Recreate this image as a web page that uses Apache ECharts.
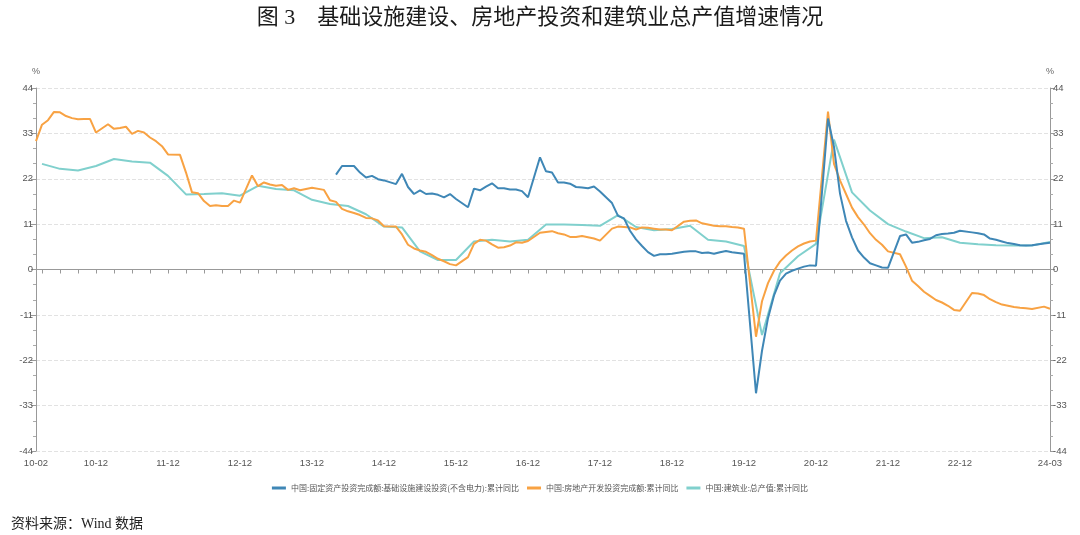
<!DOCTYPE html>
<html>
<head>
<meta charset="utf-8">
<script src="https://cdn.jsdelivr.net/npm/echarts@6/dist/echarts.min.js"></script>
<style>
  html, body { margin: 0; padding: 0; background: #fff; }
  #chart { width: 1080px; height: 535px; }
</style>
</head>
<body>
<div id="chart"></div>
<script>
// 月份轴：10-02 ~ 24-03
const months = [];
for (let y = 2010; y <= 2024; y++) {
  for (let m = 1; m <= 12; m++) {
    if ((y === 2010 && m < 2) || (y === 2024 && m > 3)) continue;
    months.push(String(y).slice(2) + "-" + String(m).padStart(2, "0"));
  }
}
// 统计局月度数据没有1月，取2~12月
const reportMonths = months.filter((m) => !m.endsWith("-01"));
const quarterMonths = months.filter((m) => ["03", "06", "09", "12"].includes(m.slice(3)));

// 基础设施建设投资(不含电力)：累计同比，14-04 起
const infraInv = [
  23.0, 25.1, 25.1, 25.1, 23.5, 22.3, 22.7, 21.9, 21.6,
  20.7, 23.2, 20.0, 18.3, 19.2, 18.3, 18.4, 18.1, 17.5, 18.3, 17.1,
  15.1, 19.6, 19.2, 20.1, 20.9, 19.7, 19.7, 19.4, 19.4, 19.0, 17.5,
  27.2, 23.8, 23.5, 21.1, 21.1, 20.8, 20.0, 19.9, 19.7, 20.1, 18.9,
  16.1, 13.0, 12.4, 9.4, 7.3, 5.7, 4.2, 3.3, 3.7, 3.7, 3.8,
  4.3, 4.4, 4.4, 4.0, 4.1, 3.8, 4.2, 4.5, 4.2, 4.0, 3.8,
  -30.0, -19.7, -11.8, -6.3, -2.7, -1.0, -0.3, 0.2, 0.7, 1.0, 0.9,
  36.6, 29.7, 18.4, 11.8, 7.8, 4.6, 2.9, 1.5, 1.0, 0.5, 0.4,
  8.1, 8.5, 6.5, 6.7, 7.1, 7.4, 8.3, 8.6, 8.7, 8.9, 9.4,
  9.0, 8.8, 8.5, 7.5, 7.2, 6.8, 6.4, 6.2, 5.9, 5.8, 5.9,
  6.3, 6.5,
];
// 房地产开发投资完成额：累计同比
const estateInv = [
  31.1, 35.1, 36.2, 38.2, 38.1, 37.2, 36.7, 36.4, 36.5, 36.5, 33.2,
  35.2, 34.1, 34.3, 34.6, 32.9, 33.6, 33.2, 32.0, 31.1, 29.9, 27.9,
  27.8, 23.5, 18.7, 18.5, 16.6, 15.4, 15.6, 15.4, 15.4, 16.7, 16.2,
  22.8, 20.2, 21.1, 20.6, 20.3, 20.5, 19.3, 19.7, 19.2, 19.5, 19.8,
  19.3, 16.8, 16.4, 14.7, 14.1, 13.7, 13.2, 12.5, 12.4, 11.9, 10.5,
  10.4, 8.5, 6.0, 5.1, 4.6, 4.3, 3.5, 2.6, 2.0, 1.3, 1.0,
  3.0, 6.2, 7.2, 7.0, 6.1, 5.3, 5.4, 5.8, 6.6, 6.5, 6.9,
  8.9, 9.1, 9.3, 8.8, 8.5, 7.9, 7.9, 8.1, 7.8, 7.5, 7.0,
  9.9, 10.4, 10.3, 10.2, 9.7, 10.2, 10.1, 9.9, 9.7, 9.7, 9.5,
  11.6, 11.8, 11.9, 11.2, 10.9, 10.6, 10.5, 10.5, 10.3, 10.2, 9.9,
  -16.3, -7.7, -3.3, -0.3, 1.9, 3.4, 4.6, 5.6, 6.3, 6.8, 7.0,
  38.3, 25.6, 21.6, 18.3, 15.0, 12.7, 10.9, 8.8, 7.2, 6.0, 4.4,
  3.7, 0.7, -2.7, -4.0, -5.4, -6.4, -7.4, -8.0, -8.8, -9.8, -10.0,
  -5.7, -5.8, -6.2, -7.2, -7.9, -8.5, -8.8, -9.1, -9.3, -9.4, -9.6,
  -9.0, -9.5,
];
// 建筑业总产值：累计同比（季度）
const buildOutput = [
  25.6, 24.4, 24.0, 25.1,
  26.8, 26.2, 25.9, 22.7,
  18.2, 18.3, 18.5, 17.9,
  20.3, 19.5, 19.2, 16.9,
  15.9, 15.4, 13.4, 10.4,
  10.2, 4.4, 2.3, 2.3,
  6.8, 7.2, 6.8, 7.2,
  10.9, 10.9, 10.8, 10.6,
  13.2, 10.3, 9.5, 9.8,
  10.6, 7.2, 6.8, 5.7,
  -15.9, -0.9, 3.2, 6.2,
  31.5, 18.7, 14.3, 11.0,
  9.2, 7.6, 7.8, 6.5,
  6.1, 5.9, 5.8, 5.8,
  6.7,
];

const seriesNames = [
  "中国:固定资产投资完成额:基础设施建设投资(不含电力):累计同比",
  "中国:房地产开发投资完成额:累计同比",
  "中国:建筑业:总产值:累计同比",
];
const colors = ["#3f87b6", "#f8a243", "#80d0cd"];

const infraStart = reportMonths.indexOf("14-04");
const infraData = infraInv.map((v, i) => [reportMonths[infraStart + i], v]);
const estateData = estateInv.map((v, i) => [reportMonths[i], v]);
const buildData = buildOutput.map((v, i) => [quarterMonths[i], v]);

const chart = echarts.init(document.getElementById("chart"));

const yAxisBase = {
  type: "value",
  min: -44,
  max: 44,
  interval: 11,
  name: "%",
  nameLocation: "end",
  nameGap: 12,
  nameTextStyle: { fontSize: 9, color: "#666" },
  axisLine: { show: true, lineStyle: { color: "#999" } },
  axisTick: { show: true, length: 5, lineStyle: { color: "#999" } },
  minorTick: { show: true, splitNumber: 3, length: 3, lineStyle: { color: "#aaa" } },
  axisLabel: { fontSize: 9.5, color: "#555", margin: 3 },
};

const option = {
  color: colors,
  animation: false,
  title: [
    {
      text: "图 3　基础设施建设、房地产投资和建筑业总产值增速情况",
      left: "center",
      top: 2,
      textStyle: {
        fontSize: 22,
        fontWeight: "normal",
        color: "#1a1a1a",
        fontFamily: "'Liberation Serif', 'Noto Sans CJK SC'",
      },
    },
    {
      text: "资料来源：Wind 数据",
      left: 6,
      top: 512,
      textStyle: {
        fontSize: 14,
        fontWeight: "normal",
        color: "#222",
        fontFamily: "'Liberation Serif', 'Noto Sans CJK SC'",
      },
    },
  ],
  grid: { left: 36, right: 30, top: 88, bottom: 84 },
  legend: {
    top: 479,
    left: "center",
    icon: "rect",
    itemWidth: 14,
    itemHeight: 3,
    itemGap: 8,
    textStyle: { fontSize: 8, color: "#555", fontFamily: "'Noto Sans CJK SC'" },
    data: seriesNames,
  },
  xAxis: {
    type: "category",
    data: months,
    boundaryGap: false,
    axisLine: { lineStyle: { color: "#999" } },
    axisTick: {
      length: 4,
      lineStyle: { color: "#999" },
      interval: (i, v) => i === 0 || ["03", "06", "09", "12"].includes(v.slice(3)),
    },
    axisLabel: {
      fontSize: 9.5,
      color: "#555",
      margin: 7,
      interval: (i, v) =>
        i === 0 || i === months.length - 1 || (v.endsWith("-12") && v !== "23-12"),
    },
  },
  yAxis: [
    Object.assign({}, yAxisBase, {
      position: "left",
      splitLine: { show: true, lineStyle: { type: "dashed", color: "#e2e2e2" } },
    }),
    Object.assign({}, yAxisBase, {
      position: "right",
      splitLine: { show: false },
    }),
  ],
  series: [
    {
      name: seriesNames[0],
      type: "line",
      data: infraData,
      showSymbol: false,
      lineStyle: { width: 2 },
      z: 4,
    },
    {
      name: seriesNames[1],
      type: "line",
      data: estateData,
      showSymbol: false,
      lineStyle: { width: 2 },
      z: 3,
    },
    {
      name: seriesNames[2],
      type: "line",
      data: buildData,
      showSymbol: false,
      lineStyle: { width: 2 },
      z: 2,
    },
  ],
};
chart.setOption(option);
</script>
</body>
</html>
